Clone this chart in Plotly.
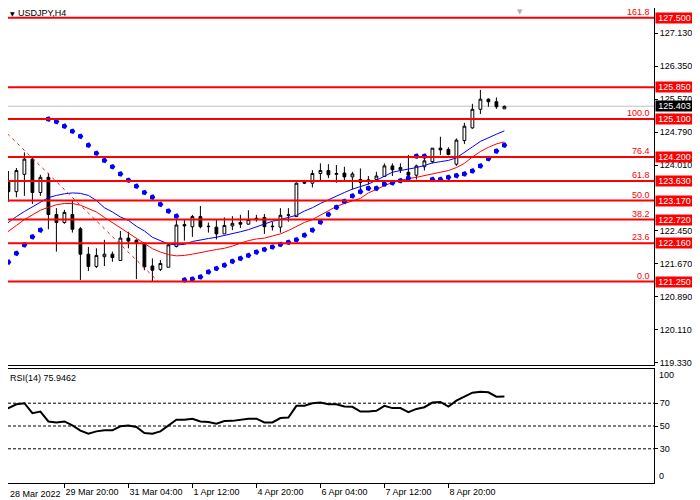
import plotly.graph_objects as go

# USDJPY H4 bars (bar index 0 = leftmost candle)
opens = [124.72, 123.63, 123.38, 123.79, 124.15, 123.36, 123.72, 122.84, 122.65, 122.84,
         122.50, 121.90, 121.61, 121.84, 121.90, 121.75, 122.28, 122.23, 122.16, 121.62,
         121.54, 121.59, 122.08, 122.60, 122.55, 122.79, 122.55, 122.54, 122.38, 122.57,
         122.65, 122.61, 122.72, 122.77, 122.55, 122.54, 122.82, 122.79, 123.63, 123.58,
         123.81, 123.88, 123.79, 123.82, 123.73, 123.67, 123.66, 123.67, 123.74, 123.99,
         123.90, 123.84, 123.77, 123.97, 124.09, 124.41, 124.38, 124.03, 124.59, 124.89,
         125.33, 125.57, 125.51, 125.34]
highs = [124.80, 123.87, 123.94, 124.31, 124.21, 123.78, 123.82, 122.99, 122.95, 123.17,
         122.54, 122.07, 122.04, 122.24, 121.96, 122.45, 122.43, 122.25, 122.17, 121.80,
         121.76, 122.16, 122.71, 122.71, 122.83, 123.04, 122.65, 122.71, 122.77, 122.80,
         122.83, 122.94, 122.83, 122.85, 122.67, 122.99, 122.99, 123.60, 123.66, 123.89,
         124.05, 124.03, 124.01, 123.97, 123.85, 123.93, 123.75, 123.85, 124.05, 124.05,
         124.05, 124.25, 124.02, 124.26, 124.41, 124.68, 124.43, 124.64, 125.01, 125.46,
         125.79, 125.59, 125.61, 125.42]
lows = [123.60, 123.14, 123.25, 123.28, 123.09, 123.28, 122.49, 121.96, 122.62, 122.41,
        121.29, 121.50, 121.57, 121.62, 121.72, 121.75, 122.04, 121.31, 121.52, 121.25,
        121.50, 121.59, 122.06, 122.22, 122.31, 122.51, 122.41, 122.25, 122.38, 122.47,
        122.52, 122.60, 122.67, 122.38, 122.46, 122.41, 122.67, 122.78, 123.56, 123.48,
        123.64, 123.70, 123.59, 123.65, 123.43, 123.42, 123.55, 123.62, 123.73, 123.75,
        123.82, 123.61, 123.67, 123.88, 124.05, 124.25, 124.24, 123.99, 124.51, 124.87,
        125.22, 125.39, 125.34, 125.34]
closes = [123.64, 123.38, 123.88, 124.15, 123.36, 123.72, 122.84, 122.65, 122.89, 122.49,
          121.90, 121.61, 121.87, 121.90, 121.82, 122.28, 122.21, 122.17, 121.60, 121.52,
          121.68, 122.12, 122.59, 122.57, 122.79, 122.55, 122.56, 122.38, 122.58, 122.63,
          122.61, 122.72, 122.75, 122.55, 122.56, 122.82, 122.83, 123.58, 123.58, 123.81,
          123.88, 123.78, 123.81, 123.73, 123.80, 123.60, 123.62, 123.75, 123.99, 123.90,
          123.95, 123.77, 123.99, 124.11, 124.41, 124.37, 124.26, 124.60, 124.93, 125.33,
          125.57, 125.51, 125.39, 125.40]

ma_fast = [122.51, 122.66, 122.79, 122.91, 123.02, 123.14, 123.24, 123.29, 123.33, 123.35,
           123.34, 123.29, 123.17, 123.00, 122.90, 122.78, 122.70, 122.56, 122.45, 122.30,
           122.22, 122.14, 122.12, 122.13, 122.20, 122.24, 122.27, 122.30, 122.34, 122.38,
           122.43, 122.48, 122.55, 122.62, 122.68, 122.72, 122.77, 122.82, 122.92, 123.00,
           123.10, 123.19, 123.28, 123.36, 123.44, 123.50, 123.56, 123.65, 123.74, 123.84,
           123.88, 123.91, 123.95, 124.00, 124.06, 124.09, 124.12, 124.18, 124.30, 124.44,
           124.57, 124.66, 124.74, 124.82]
ma_slow = [122.30, 122.45, 122.58, 122.72, 122.84, 122.94, 123.01, 123.07, 123.10, 123.10,
           123.06, 122.98, 122.90, 122.77, 122.65, 122.52, 122.41, 122.28, 122.15, 122.03,
           121.95, 121.89, 121.86, 121.87, 121.90, 121.94, 121.98, 122.01, 122.04, 122.09,
           122.16, 122.22, 122.26, 122.28, 122.33, 122.38, 122.46, 122.56, 122.65, 122.72,
           122.83, 122.92, 123.03, 123.10, 123.16, 123.22, 123.35, 123.44, 123.52, 123.60,
           123.65, 123.69, 123.72, 123.76, 123.79, 123.83, 123.88, 123.95, 124.05, 124.20,
           124.33, 124.43, 124.51, 124.56]
sar = [121.50, 121.71, 121.92, 122.12, 122.31, 122.47, 125.10, 125.04, 124.93, 124.81,
       124.69, 124.48, 124.29, 124.12, 123.97, 123.80, 123.65, 123.51, 123.36, 123.25,
       123.08, 122.92, 122.80, 121.29, 121.31, 121.36, 121.48, 121.56, 121.64, 121.73,
       121.80, 121.87, 121.95, 122.01, 122.07, 122.13, 122.18, 122.24, 122.35, 122.47,
       122.66, 122.84, 123.01, 123.15, 123.28, 123.38, 123.46, 123.46, 123.56, 123.59,
       123.64, 123.70, 124.22, 124.22, 123.67, 123.67, 123.72, 123.76, 123.80, 123.87,
       123.99, 124.16, 124.34, 124.48]
rsi = [69.1, 65.7, 69.1, 70.0, 61.3, 62.7, 54.0, 53.1, 54.0, 50.5,
       45.9, 43.3, 45.3, 46.2, 46.2, 49.7, 50.5, 49.1, 43.9, 43.3,
       45.3, 50.5, 55.5, 55.5, 56.4, 54.0, 53.5, 52.0, 54.3, 54.5,
       55.5, 56.4, 56.4, 53.1, 53.1, 57.0, 57.5, 67.7, 67.7, 70.0,
       70.6, 69.1, 69.1, 67.1, 66.8, 62.7, 62.7, 63.3, 67.7, 65.7,
       65.7, 62.2, 65.0, 66.5, 70.6, 71.1, 67.1, 72.3, 75.7, 79.2,
       80.1, 79.6, 75.7, 75.9]
bars = list(range(len(opens)))

# horizontal levels and fibonacci grid
price_levels = [127.500, 125.850, 125.100, 124.200, 123.630, 123.170, 122.720, 122.160, 121.250]
fib_levels = [127.500, 125.100, 124.200, 123.630, 123.170, 122.720, 122.160, 121.250]
fib_names = ["161.8", "100.0", "76.4", "61.8", "50.0", "38.2", "23.6", "0.0"]
fib_anchor_x = [-1, 19.75]
fib_anchor_y = [125.10, 121.25]
bid_price = 125.403
rsi_value = "75.9462"
rsi_levels = [70, 50, 30]

price_ticks = [127.13, 126.35, 125.57, 124.79, 124.01, 122.45, 121.67, 120.89, 120.11, 119.33]
time_ticks = [8, 16, 24, 32, 40, 48, 56]
time_labels = ["29 Mar 20:00", "31 Mar 04:00", "1 Apr 12:00",
               "4 Apr 20:00", "6 Apr 04:00", "7 Apr 12:00", "8 Apr 20:00"]
first_label = "28 Mar 2022"

FONT = "Liberation Sans"
RED = "#FF0000"

# the page body adds an 8px margin, so the figure is 8px smaller each way
W, H = 692, 492
PLOT_W = 646

fig = go.Figure()

fig.add_trace(go.Scatter(x=bars, y=ma_slow, mode="lines", line=dict(color=RED, width=1),
                         xaxis="x", yaxis="y", hoverinfo="skip"))
fig.add_trace(go.Scatter(x=bars, y=ma_fast, mode="lines", line=dict(color="#0000FF", width=1),
                         xaxis="x", yaxis="y", hoverinfo="skip"))
fig.add_trace(go.Scatter(x=fib_anchor_x, y=fib_anchor_y, mode="lines",
                         line=dict(color=RED, width=1, dash="3px,4px"),
                         xaxis="x", yaxis="y", hoverinfo="skip"))
fig.add_trace(go.Candlestick(
    x=bars, open=opens, high=highs, low=lows, close=closes,
    increasing=dict(line=dict(color="black", width=1), fillcolor="white"),
    decreasing=dict(line=dict(color="black", width=1), fillcolor="black"),
    whiskerwidth=0, xaxis="x", yaxis="y"))
fig.add_trace(go.Scatter(x=bars, y=sar, mode="markers",
                         marker=dict(symbol="pentagon", angle=90, size=6, color="#0000FF"),
                         xaxis="x", yaxis="y", hoverinfo="skip"))
fig.add_trace(go.Scatter(x=bars, y=rsi, mode="lines", line=dict(color="black", width=2),
                         xaxis="x2", yaxis="y2", hoverinfo="skip"))

shapes = []
shapes.append(dict(type="line", xref="x domain", yref="y", x0=0, x1=1, y0=bid_price, y1=bid_price,
                   line=dict(color="#C0C0C0", width=1), layer="below"))
for lv in price_levels:
    shapes.append(dict(type="line", xref="x domain", yref="y", x0=0, x1=1, y0=lv, y1=lv,
                       line=dict(color=RED, width=2)))
for lv in rsi_levels:
    shapes.append(dict(type="line", xref="x2 domain", yref="y2", x0=0, x1=1, y0=lv, y1=lv,
                       line=dict(color="black", width=1, dash="3px,2px")))

annotations = []
for lv, name in zip(fib_levels, fib_names):
    annotations.append(dict(x=1, xref="paper", y=lv, yref="y", text=name, showarrow=False,
                            xanchor="right", yanchor="bottom", xshift=-2, yshift=-1,
                            font=dict(family=FONT, size=9, color=RED)))
for lv in price_levels:
    annotations.append(dict(x=1, xref="paper", y=lv, yref="y", text=f"{lv:.3f}", showarrow=False,
                            xanchor="left", yanchor="middle", xshift=1, bgcolor=RED,
                            width=37, height=10, borderpad=0,
                            font=dict(family=FONT, size=9, color="white")))
annotations.append(dict(x=1, xref="paper", y=bid_price, yref="y", text=f"{bid_price:.3f}",
                        showarrow=False, xanchor="left", yanchor="middle", xshift=1,
                        bgcolor="black", width=37, height=10, borderpad=0,
                        font=dict(family=FONT, size=9, color="white")))
annotations.append(dict(x=0, xref="paper", y=1, yref="paper", text="▼", showarrow=False,
                        xanchor="left", yanchor="top", yshift=0,
                        font=dict(family="DejaVu Sans", size=6, color="black")))
annotations.append(dict(x=8 / PLOT_W, xref="paper", y=1, yref="paper", text="USDJPY,H4",
                        showarrow=False, xanchor="left", yanchor="top", yshift=2,
                        font=dict(family=FONT, size=9, color="black")))
annotations.append(dict(x=512 / PLOT_W, xref="paper", y=1, yref="paper", text="▼", showarrow=False,
                        xanchor="center", yanchor="top", yshift=2,
                        font=dict(family="DejaVu Sans", size=7, color="#B0B0B0")))
annotations.append(dict(x=0, xref="paper", y=1, yref="y2 domain", text="RSI(14) " + rsi_value,
                        showarrow=False, xanchor="left", yanchor="top", yshift=-2,
                        font=dict(family=FONT, size=9, color="black")))
annotations.append(dict(x=1, xref="paper", y=100, yref="y2", text="100", showarrow=False,
                        xanchor="left", yanchor="middle", xshift=3, yshift=-6,
                        font=dict(family=FONT, size=9, color="black")))
annotations.append(dict(x=1, xref="paper", y=0, yref="y2", text="0", showarrow=False,
                        xanchor="left", yanchor="middle", xshift=3, yshift=7,
                        font=dict(family=FONT, size=9, color="black")))
annotations.append(dict(x=0, xref="paper", y=0, yref="paper", text=first_label, showarrow=False,
                        xanchor="left", yanchor="top", yshift=-4,
                        font=dict(family=FONT, size=9, color="black")))

x_range = [0.95, 0.95 + PLOT_W / 8]
fig.update_layout(
    width=W, height=H, template="none",
    margin=dict(l=0, r=W - PLOT_W, t=0, b=17),
    paper_bgcolor="white", plot_bgcolor="white",
    font=dict(family=FONT, size=9, color="black"),
    showlegend=False, boxgap=0.5,
    shapes=shapes, annotations=annotations,
    xaxis=dict(domain=[0, 1], anchor="y", range=x_range, rangeslider=dict(visible=False),
               showgrid=False, zeroline=False, showticklabels=False, ticks="",
               showline=True, linecolor="black", linewidth=1),
    yaxis=dict(domain=[118 / 475, 1], anchor="x", side="right", range=[119.2755, 127.729],
               tickvals=price_ticks, ticktext=[f"{v:.3f}" for v in price_ticks],
               ticks="outside", ticklen=3, tickcolor="black", showgrid=False, zeroline=False,
               showline=True, linecolor="black", linewidth=1),
    xaxis2=dict(domain=[0, 1], anchor="y2", matches="x", range=x_range,
                tickvals=time_ticks, ticktext=time_labels, ticklabelposition="outside right",
                ticks="outside", ticklen=4, tickcolor="black", showgrid=False, zeroline=False,
                showline=True, mirror=True, linecolor="black", linewidth=1),
    yaxis2=dict(domain=[0, 114 / 475], anchor="x2", side="right", range=[0, 100],
                tickvals=rsi_levels, ticks="outside", ticklen=3, tickcolor="black",
                showgrid=False, zeroline=False, showline=True, linecolor="black", linewidth=1),
)

fig.write_html("out.html")
